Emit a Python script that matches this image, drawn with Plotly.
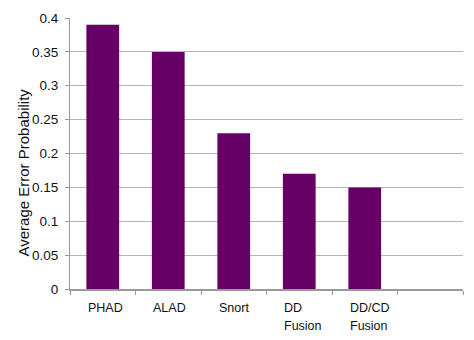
import plotly.graph_objects as go

categories = ["PHAD", "ALAD", "Snort", "DD<br>Fusion", "DD/CD<br>Fusion", " "]
values = [0.39, 0.35, 0.23, 0.17, 0.15, None]
y_title = "Average Error Probability"

fig = go.Figure()
fig.add_trace(go.Bar(
    x=categories, y=values, width=0.5,
    marker=dict(color="#660066", line=dict(width=0)),
))

for c in categories[:-1]:
    for i, line in enumerate(c.split("<br>")):
        fig.add_annotation(
            x=c, y=0, xref="x", yref="y", text=line, showarrow=False,
            xanchor="left", yanchor="top", align="left", xshift=-17,
            yshift=-10 - 18 * i,
            font=dict(family="Liberation Sans, Arial", size=12.5, color="#111"),
        )

fig.add_annotation(
    x=0, y=0.5, xref="paper", yref="paper", text=y_title, showarrow=False,
    textangle=-90, xanchor="center", yanchor="middle", xshift=-47, yshift=-19,
    font=dict(family="Liberation Sans, Arial", size=15, color="#111"),
)

fig.update_layout(
    width=474, height=340,
    margin=dict(l=70, r=11, t=13, b=51),
    plot_bgcolor="white", paper_bgcolor="white",
    showlegend=False,
    font=dict(family="Liberation Sans, Arial", color="#111"),
)
fig.update_xaxes(
    type="category", showticklabels=False, tickson="boundaries",
    ticks="outside", ticklen=4, tickcolor="#999",
    showline=True, linecolor="#999", linewidth=2, showgrid=False,
    range=[-0.5, 5.5],
)
fig.update_yaxes(
    range=[0, 0.4], dtick=0.05, ticks="outside", ticklen=4, tickcolor="#999",
    showline=True, linecolor="#999", linewidth=1,
    showgrid=True, gridcolor="#b5b5b5", gridwidth=1, zeroline=False,
    tickfont=dict(size=13.5), ticklabelstandoff=4,
)

fig.write_html("out.html")
